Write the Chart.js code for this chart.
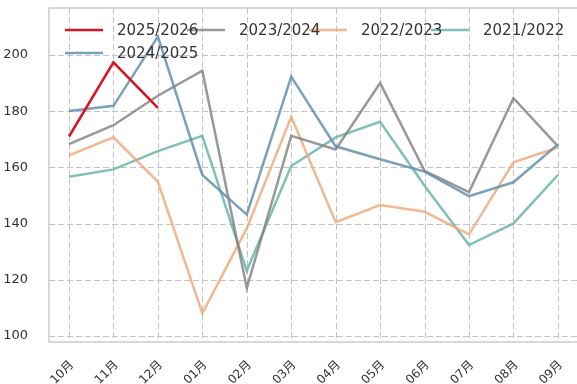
<!DOCTYPE html>
<html lang="zh">
<head>
<meta charset="UTF-8">
<title>月度走势</title>
<script src="https://cdn.jsdelivr.net/npm/chart.js@4.4.0/dist/chart.umd.min.js"></script>
<style>
  html, body { margin: 0; padding: 0; background: #fff; }
  #wrap { width: 577px; height: 384px; }
</style>
</head>
<body>
<div id="wrap"><canvas id="chart" width="577" height="384"></canvas></div>
<script>
// months of the season, October to September
const months = ['10月', '11月', '12月', '01月', '02月', '03月', '04月', '05月', '06月', '07月', '08月', '09月'];
const yTicks = [100, 120, 140, 160, 180, 200];

const s2025 = [171.0, 197.4, 181.2];
const s2024 = [180.1, 181.9, 206.5, 157.3, 143.2, 192.3, 167.5, 162.9, 158.5, 149.8, 154.7, 168.2];
const s2023 = [168.3, 175.0, 185.5, 194.4, 117.1, 171.2, 166.4, 190.0, 158.8, 151.2, 184.6, 167.6];
const s2022 = [164.3, 170.7, 154.9, 108.1, 138.3, 178.0, 140.5, 146.6, 144.2, 136.2, 161.8, 167.1];
const s2021 = [156.7, 159.3, 165.8, 171.2, 123.3, 160.5, 170.7, 176.2, 153.5, 132.4, 140.1, 157.3];

const seasons = [
  { label: '2025/2026', values: s2025, color: '#d7141f' },
  { label: '2024/2025', values: s2024, color: 'rgba(100,144,174,0.85)' },
  { label: '2023/2024', values: s2023, color: 'rgba(128,128,128,0.8)' },
  { label: '2022/2023', values: s2022, color: 'rgba(238,166,118,0.8)' },
  { label: '2021/2022', values: s2021, color: 'rgba(104,182,172,0.85)' }
];

const FONT = '"DejaVu Sans", "Noto Sans CJK SC", sans-serif';

// legend laid out in 4 columns, filled column by column
const legendSlots = [
  { col: 0, row: 0 }, { col: 0, row: 1 }, { col: 1, row: 0 }, { col: 2, row: 0 }, { col: 3, row: 0 }
];

const framePlugin = {
  id: 'frame',
  beforeDatasetsDraw(chart) {
    const { ctx, chartArea: a, scales } = chart;
    ctx.save();
    // dashed grid
    ctx.strokeStyle = '#c4c4c4';
    ctx.lineWidth = 1;
    ctx.setLineDash([6, 3]);
    ctx.beginPath();
    scales.x.ticks.forEach(t => {
      const x = Math.round(scales.x.getPixelForValue(t.value)) + 0.5;
      ctx.moveTo(x, a.top);
      ctx.lineTo(x, a.bottom);
    });
    scales.y.ticks.forEach(t => {
      const y = Math.round(scales.y.getPixelForValue(t.value)) + 0.5;
      ctx.moveTo(a.left, y);
      ctx.lineTo(a.right + 2, y);
    });
    ctx.stroke();
    ctx.setLineDash([]);
    // frame on left, top and bottom
    ctx.strokeStyle = '#cccccc';
    ctx.lineWidth = 1.5;
    ctx.beginPath();
    ctx.moveTo(a.right + 2, a.top);
    ctx.lineTo(a.left, a.top);
    ctx.lineTo(a.left, a.bottom);
    ctx.lineTo(a.right + 2, a.bottom);
    ctx.stroke();
    ctx.restore();
  },
  afterDatasetsDraw(chart) {
    const { ctx } = chart;
    const items = chart.data.datasets.map((ds, i) => {
      const slot = legendSlots[i];
      return { ds, x: 65 + slot.col * 122, y: 30 + slot.row * 23 };
    });
    ctx.save();
    ctx.lineWidth = 2.5;
    items.forEach(({ ds, x, y }) => {
      ctx.strokeStyle = ds.borderColor;
      ctx.beginPath();
      ctx.moveTo(x, y);
      ctx.lineTo(x + 38, y);
      ctx.stroke();
    });
    ctx.font = '15px ' + FONT;
    ctx.textBaseline = 'middle';
    ctx.fillStyle = '#333';
    items.forEach(({ ds, x, y }) => ctx.fillText(ds.label, x + 52, y + 1));
    ctx.restore();
  }
};

new Chart(document.getElementById('chart'), {
  type: 'line',
  data: {
    datasets: seasons.map(s => ({
      label: s.label,
      data: s.values.map((v, i) => ({ x: i, y: v })),
      borderColor: s.color,
      backgroundColor: s.color,
      borderWidth: 2.5,
      pointRadius: 0,
      tension: 0,
      fill: false
    }))
  },
  options: {
    responsive: false,
    animation: false,
    layout: { padding: { top: 8, right: 0, left: 0, bottom: 0 } },
    plugins: { legend: { display: false }, tooltip: { enabled: false } },
    scales: {
      x: {
        type: 'linear',
        min: -0.45,
        max: 11.43,
        afterBuildTicks: scale => { scale.ticks = months.map((_, i) => ({ value: i })); },
        afterFit: scale => {
          scale.height = 42;
          scale.paddingLeft = 0;
          scale.paddingRight = 0;
        },
        grid: { display: false },
        border: { display: false },
        ticks: {
          callback: v => months[v],
          minRotation: 45,
          maxRotation: 45,
          padding: 8,
          labelOffset: 3,
          color: '#333',
          font: { family: FONT, size: 12 }
        }
      },
      y: {
        min: 97.9,
        max: 216.7,
        afterBuildTicks: scale => { scale.ticks = yTicks.map(v => ({ value: v })); },
        afterFit: scale => {
          scale.width = 49;
          scale.paddingTop = 0;
          scale.paddingBottom = 0;
        },
        grid: { display: false },
        border: { display: false },
        ticks: {
          padding: 13,
          color: '#333',
          font: { family: FONT, size: 13 }
        }
      }
    }
  },
  plugins: [framePlugin]
});
</script>
</body>
</html>
